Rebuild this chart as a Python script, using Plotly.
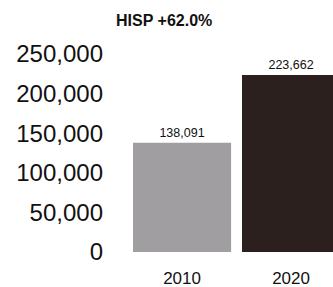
import plotly.graph_objects as go

categories = ["2010", "2020"]
values = [138091, 223662]
value_labels = ["138,091", "223,662"]
bar_colors = ["#a09ea0", "#2b201d"]
title_text = "HISP +62.0%"
y_tickvals = [0, 50000, 100000, 150000, 200000, 250000]
y_ticktext = ["0", "50,000", "100,000", "150,000", "200,000", "250,000"]

fig = go.Figure(
    go.Bar(
        x=categories,
        y=values,
        marker=dict(color=bar_colors, line=dict(width=0)),
        text=value_labels,
        textposition="outside",
        textfont=dict(size=12.5, color="#111111", family="Liberation Sans, Arial"),
        cliponaxis=False,
        width=0.9,
    )
)

fig.update_layout(
    width=333,
    height=287,
    margin=dict(l=115, r=0, t=40, b=35, autoexpand=False),
    paper_bgcolor="white",
    plot_bgcolor="white",
    showlegend=False,
    title=dict(
        text="<b>" + title_text + "</b>",
        x=0.493,
        xref="container",
        xanchor="center",
        y=0.93,
        yref="container",
        yanchor="middle",
        font=dict(size=16, color="#111111", family="Liberation Sans, Arial"),
    ),
    font=dict(family="Liberation Sans, Arial", color="#111111"),
)

fig.update_xaxes(
    type="category",
    range=[-0.615, 1.385],
    showgrid=False,
    showline=False,
    zeroline=False,
    ticks="",
    tickfont=dict(size=17, color="#111111"),
    ticklabelstandoff=14,
)

fig.update_yaxes(
    range=[0, 267700],
    tickvals=y_tickvals,
    ticktext=y_ticktext,
    showgrid=False,
    showline=False,
    zeroline=False,
    ticks="",
    tickfont=dict(size=24, color="#111111"),
    ticklabelstandoff=11,
)

fig.write_html(
    "out.html",
    config={"displayModeBar": False},
    post_script="document.body.style.margin='0';document.body.style.overflow='hidden';",
)
